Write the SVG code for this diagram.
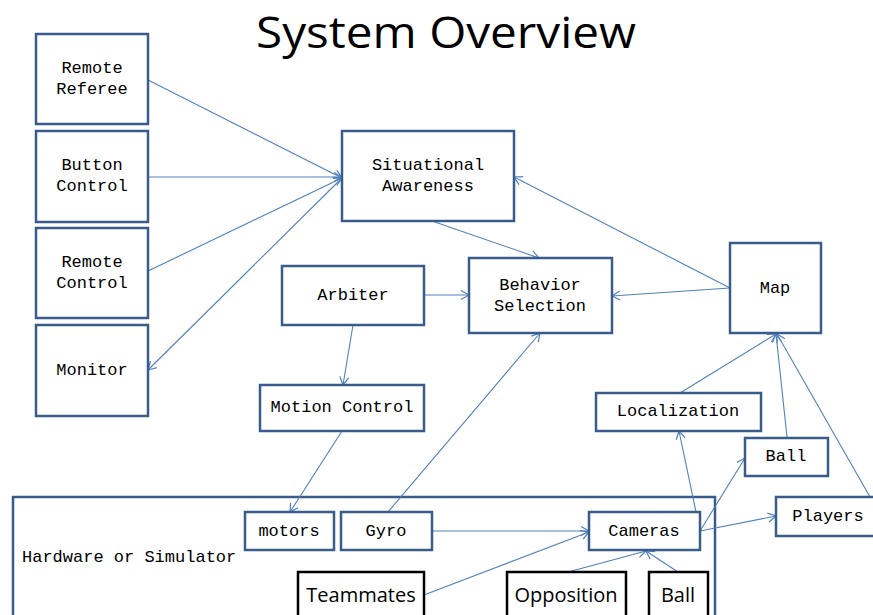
<svg xmlns="http://www.w3.org/2000/svg" width="873" height="615" viewBox="0 0 873 615">
<style>
.box{fill:#fff;stroke:#385D8A;stroke-width:2.5}
.bbox{fill:#fff;stroke:#000;stroke-width:2.5}
.t{font-family:"Liberation Mono","DejaVu Sans Mono",monospace;font-size:17px;fill:#000;text-anchor:middle}
.s{font-family:"Open Sans","Liberation Sans",sans-serif;font-size:20px;fill:#000;text-anchor:middle}
.c{fill:none;stroke:#4F81BD;stroke-width:1.1}
</style>
<defs>
<marker id="a" markerUnits="userSpaceOnUse" markerWidth="14" markerHeight="14" refX="11" refY="7" orient="auto">
<path d="M3,2.5 L11,7 L3,11.5" fill="none" stroke="#4F81BD" stroke-width="1.2"/>
</marker>
</defs>
<rect width="873" height="615" fill="#fff"/>
<text x="446" y="48" font-family="Open Sans,Liberation Sans,sans-serif" font-size="44" text-anchor="middle" textLength="380" lengthAdjust="spacingAndGlyphs" fill="#000">System Overview</text>

<g id="hardware"><rect class="box" x="13" y="497" width="702" height="130"/><text class="t" x="22" y="562" style="text-anchor:start">Hardware or Simulator</text></g>

<g id="connectors">
<line class="c" x1="148" y1="80" x2="342" y2="178" marker-end="url(#a)"/>
<line class="c" x1="148" y1="177" x2="342" y2="177" marker-end="url(#a)"/>
<line class="c" x1="148" y1="271" x2="342" y2="178" marker-end="url(#a)"/>
<line class="c" x1="342" y1="178" x2="148" y2="370" marker-end="url(#a)"/>
<line class="c" x1="432" y1="221" x2="539" y2="258" marker-end="url(#a)"/>
<line class="c" x1="730" y1="288" x2="514" y2="177" marker-end="url(#a)"/>
<line class="c" x1="730" y1="288" x2="612" y2="296" marker-end="url(#a)"/>
<line class="c" x1="424" y1="295" x2="469" y2="295" marker-end="url(#a)"/>
<line class="c" x1="353" y1="325" x2="343" y2="385" marker-end="url(#a)"/>
<line class="c" x1="342" y1="431" x2="290" y2="512" marker-end="url(#a)"/>
<line class="c" x1="388" y1="512" x2="540" y2="333" marker-end="url(#a)"/>
<line class="c" x1="680" y1="393" x2="776" y2="334" marker-end="url(#a)"/>
<line class="c" x1="787" y1="437" x2="776" y2="334" marker-end="url(#a)"/>
<line class="c" x1="870" y1="497" x2="777" y2="334" marker-end="url(#a)"/>
<line class="c" x1="700" y1="531" x2="679" y2="431" marker-end="url(#a)"/>
<line class="c" x1="700" y1="531" x2="745" y2="458" marker-end="url(#a)"/>
<line class="c" x1="700" y1="531" x2="776" y2="516" marker-end="url(#a)"/>
<line class="c" x1="432" y1="531" x2="589" y2="531" marker-end="url(#a)"/>
<line class="c" x1="424" y1="595" x2="589" y2="532" marker-end="url(#a)"/>
<line class="c" x1="568" y1="572" x2="646" y2="551" marker-end="url(#a)"/>
<line class="c" x1="678" y1="572" x2="646" y2="551" marker-end="url(#a)"/>
</g>

<g id="remote-referee"><rect class="box" x="36" y="34" width="112" height="90"/><text class="t" x="92" y="73">Remote</text><text class="t" x="92" y="94">Referee</text></g>
<g id="button-control"><rect class="box" x="36" y="131" width="112" height="91"/><text class="t" x="92" y="170">Button</text><text class="t" x="92" y="191">Control</text></g>
<g id="remote-control"><rect class="box" x="36" y="228" width="112" height="90"/><text class="t" x="92" y="267">Remote</text><text class="t" x="92" y="288">Control</text></g>
<g id="monitor"><rect class="box" x="36" y="325" width="112" height="91"/><text class="t" x="92" y="375">Monitor</text></g>
<g id="situational-awareness"><rect class="box" x="342" y="131" width="172" height="90"/><text class="t" x="428" y="170">Situational</text><text class="t" x="428" y="191">Awareness</text></g>
<g id="arbiter"><rect class="box" x="282" y="266" width="142" height="59"/><text class="t" x="353" y="300">Arbiter</text></g>
<g id="behavior-selection"><rect class="box" x="469" y="258" width="143" height="75"/><text class="t" x="540" y="290">Behavior</text><text class="t" x="540" y="311">Selection</text></g>
<g id="map"><rect class="box" x="730" y="243" width="91" height="90"/><text class="t" x="775" y="293">Map</text></g>
<g id="motion-control"><rect class="box" x="260" y="385" width="164" height="46"/><text class="t" x="342" y="412">Motion Control</text></g>
<g id="localization"><rect class="box" x="596" y="393" width="165" height="38"/><text class="t" x="678" y="416">Localization</text></g>
<g id="ball-est"><rect class="box" x="745" y="438" width="83" height="38"/><text class="t" x="786" y="461">Ball</text></g>
<g id="players"><rect class="box" x="776" y="497" width="110" height="39"/><text class="t" x="828" y="521">Players</text></g>
<g id="motors"><rect class="box" x="245" y="512" width="89" height="38"/><text class="t" x="289" y="536">motors</text></g>
<g id="gyro"><rect class="box" x="341" y="512" width="91" height="38"/><text class="t" x="386" y="536">Gyro</text></g>
<g id="cameras"><rect class="box" x="589" y="512" width="111" height="38"/><text class="t" x="644" y="536">Cameras</text></g>
<g id="teammates"><rect class="bbox" x="298" y="572" width="126" height="60"/><text class="s" x="361" y="602">Teammates</text></g>
<g id="opposition"><rect class="bbox" x="507" y="572" width="119" height="60"/><text class="s" x="566" y="602">Opposition</text></g>
<g id="ball-sim"><rect class="bbox" x="649" y="572" width="59" height="60"/><text class="s" x="678" y="602">Ball</text></g>
</svg>
